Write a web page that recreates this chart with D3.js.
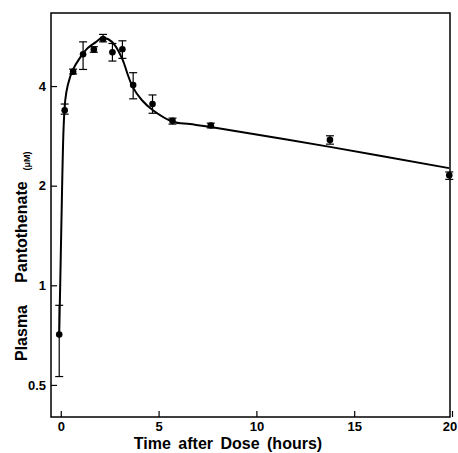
<!DOCTYPE html>
<html>
<head>
<meta charset="utf-8">
<script src="https://cdn.jsdelivr.net/npm/d3@7"></script>
<style>
	body { margin: 0; background: #fff; }
	svg { display: block; }
	text { font-family: "Liberation Sans", Arial, Helvetica, sans-serif; font-weight: bold; fill: #000; }
</style>
</head>
<body>
<div id="chart"></div>
<script>
// measured points (hours, µM) with error bar ends
const times = [-0.08, 0.2, 0.63, 1.14, 1.69, 2.16, 2.64, 3.15, 3.7, 4.69, 5.71, 7.67, 13.76, 19.86];
const means = [0.71, 3.38, 4.42, 4.99, 5.16, 5.55, 5.06, 5.17, 4.03, 3.53, 3.14, 3.04, 2.75, 2.15];
const upper = [0.87, 3.53, 4.50, 5.44, 5.26, 5.73, 5.38, 5.48, 4.39, 3.76, 3.20, 3.09, 2.83, 2.20];
const lower = [0.53, 3.29, 4.35, 4.49, 5.06, 5.44, 4.76, 4.85, 3.66, 3.31, 3.07, 2.99, 2.67, 2.09];

// fitted curve
const fitTimes = [-0.08, 0, 0.08, 0.15, 0.23, 0.36, 0.61, 0.97, 1.38, 1.79, 2.1, 2.45, 2.76, 3.17, 3.43, 3.68, 4.14, 4.71, 5.73, 6.6, 7.67, 13.76, 19.85];
const fitValues = [0.71, 1.23, 2.15, 3.05, 3.63, 4.03, 4.47, 4.86, 5.21, 5.43, 5.59, 5.53, 5.32, 4.79, 4.32, 3.97, 3.63, 3.38, 3.12, 3.07, 3.01, 2.62, 2.26];

const xTicks = [0, 5, 10, 15, 20];
const yTicks = [0.5, 1, 2, 4];

const svg = d3.select('#chart').append('svg')
	.attr('width', 458)
	.attr('height', 453);

const x = d3.scaleLinear().domain([-0.5, 20]).range([51, 452]);
const y = d3.scaleLog().domain([0.4, 6.65]).range([417, 13]);

// frame
svg.append('rect')
	.attr('x', 51).attr('y', 13)
	.attr('width', 399).attr('height', 404)
	.attr('fill', 'none')
	.attr('stroke', '#000')
	.attr('stroke-width', 1.5);

const xAxis = svg.append('g')
	.attr('transform', 'translate(0,417)')
	.call(d3.axisBottom(x).tickValues(xTicks).tickSize(-6).tickSizeOuter(0).tickPadding(5));
xAxis.select('.domain').remove();
xAxis.selectAll('text').attr('font-size', 13);
xAxis.selectAll('line').attr('stroke-width', 1.2);
// last label sits right at the page edge, nudge it in
xAxis.selectAll('text').filter(d => d === 20).attr('dx', -2.5);

const yAxis = svg.append('g')
	.attr('transform', 'translate(51,0)')
	.call(d3.axisLeft(y).tickValues(yTicks).tickFormat(d => String(d)).tickSize(-6).tickSizeOuter(0).tickPadding(5));
yAxis.select('.domain').remove();
yAxis.selectAll('text').attr('font-size', 13);
yAxis.selectAll('line').attr('stroke-width', 1.2);

// axis titles
svg.append('text')
	.attr('x', 228).attr('y', 449)
	.attr('text-anchor', 'middle')
	.attr('font-size', 16)
	.attr('word-spacing', 3)
	.text('Time after Dose (hours)');

const yTitle = [
	{ t: 'Plasma', c: 333, size: 16, base: 27 },
	{ t: 'Pantothenate', c: 232, size: 16, base: 27 },
	{ t: '(μM)', c: 161, size: 9, base: 30 }
];
svg.selectAll('.ytitle')
	.data(yTitle)
	.enter()
		.append('text')
		.attr('class', 'ytitle')
		.attr('transform', d => `translate(${d.base},${d.c}) rotate(-90)`)
		.attr('text-anchor', 'middle')
		.attr('font-size', d => d.size)
		.text(d => d.t);

// fitted curve
const fit = fitTimes.map((t, i) => [t, fitValues[i]]);
svg.append('path')
	.datum(fit)
	.attr('fill', 'none')
	.attr('stroke', '#000')
	.attr('stroke-width', 2)
	.attr('d', d3.line().x(d => x(d[0])).y(d => y(d[1])).curve(d3.curveCatmullRom.alpha(0.5)));

// error bars and points
const pts = times.map((t, i) => ({ t: t, m: means[i], hi: upper[i], lo: lower[i] }));
const g = svg.append('g').attr('stroke', '#000').attr('stroke-width', 1.2);
pts.forEach(p => {
	g.append('line').attr('x1', x(p.t)).attr('x2', x(p.t)).attr('y1', y(p.hi)).attr('y2', y(p.lo));
	g.append('line').attr('x1', x(p.t) - 4).attr('x2', x(p.t) + 4).attr('y1', y(p.hi)).attr('y2', y(p.hi));
	g.append('line').attr('x1', x(p.t) - 4).attr('x2', x(p.t) + 4).attr('y1', y(p.lo)).attr('y2', y(p.lo));
});

svg.selectAll('circle')
	.data(pts)
	.enter()
		.append('circle')
		.attr('cx', d => x(d.t))
		.attr('cy', d => y(d.m))
		.attr('r', 3.3)
		.attr('fill', '#000');
</script>
</body>
</html>
